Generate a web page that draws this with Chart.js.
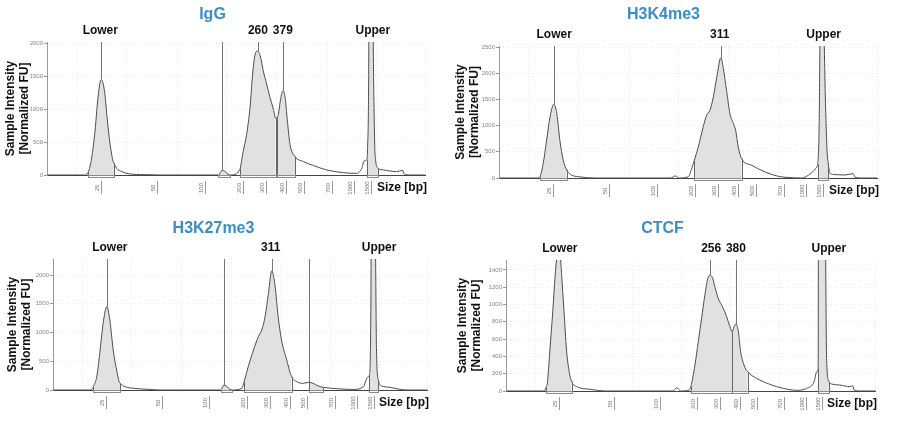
<!DOCTYPE html>
<html>
<head>
<meta charset="utf-8">
<script src="https://cdn.jsdelivr.net/npm/chart.js@4.4.0/dist/chart.umd.min.js"></script>
<style>
  body { margin: 0; background: #fff; }
  #wrap { position: relative; width: 900px; height: 421px; background: #fff; }
  .p { position: absolute; }
</style>
</head>
<body>
<div id="wrap">
  <div class="p" style="left:0;top:0;width:450px;height:210px"><canvas id="c1"></canvas></div>
  <div class="p" style="left:450px;top:0;width:450px;height:210px"><canvas id="c2"></canvas></div>
  <div class="p" style="left:0;top:210px;width:450px;height:211px"><canvas id="c3"></canvas></div>
  <div class="p" style="left:450px;top:210px;width:450px;height:211px"><canvas id="c4"></canvas></div>
</div>
<script>
// ====== TapeStation electropherograms (x = migration, % of run) ======
const sizeLabels = ["25", "50", "100", "200", "300", "400", "500", "700", "1000", "1500"];
const sizePos = [14.3, 29.2, 41.7, 51.8, 57.9, 63.3, 67.9, 75.3, 81.2, 85.7];
const gridPos = [7.9, 21.1, 34.4, 47.6, 60.8, 74.1, 87.3, 100];
const fuTicks500 = [0, 500, 1000, 1500, 2000, 2500];
const fuTicks200 = [0, 200, 400, 600, 800, 1000, 1200, 1400];

// IgG
const iggPos = [0, 10.0, 10.9, 11.8, 12.7, 13.4, 14.3, 15.2, 15.9, 16.7, 17.5, 17.7, 18.4, 19.8, 21.5, 25.9, 30.0, 45.3, 46.4, 48.4,
  50.2, 50.9, 51.1, 51.9, 52.8, 53.7, 54.4, 55.0, 55.7, 56.5, 57.2, 58.1, 59.0, 59.9, 60.5, 60.9, 61.2, 61.8, 62.4, 63.0,
  63.6, 64.3, 65.6, 67.8, 70.5, 74.0, 78.4, 81.9, 83.3, 83.9, 84.6, 84.8, 85.1, 85.2, 86.1, 86.4, 86.8, 87.6, 89.0, 90.7,
  92.5, 94.1, 94.4, 96.0, 100];
const iggFU = [0, 0, 40, 257, 667, 1128, 1451, 1282, 872, 462, 205, 185, 103, 51, 20, 5, 0, 0, 75, 0,
  20, 77, 100, 359, 615, 1026, 1538, 1821, 1887, 1795, 1590, 1385, 1180, 1000, 862, 880, 923, 1154, 1282, 1180,
  820, 462, 282, 205, 143, 77, 35, 25, 103, 215, 231, 400, 1500, 3000, 3000, 1500, 300, 103, 77, 62,
  51, 72, 20, 0, 0];
const iggRegions = [[10.9, 17.7], [45.3, 48.4], [51.1, 60.5], [60.9, 65.6], [84.6, 87.6]];
const iggMarkers = [14.3, 46.4, 55.7, 62.4];
const iggLabelPos = [14.1, 55.8, 62.4, 86.2];
const iggLabelText = ["Lower", "260", "379", "Upper"];

// H3K4me3
const k4Pos = [0, 10.0, 10.8, 11.7, 12.6, 13.5, 14.5, 15.3, 16.1, 17.0, 17.9, 19.2, 21.0, 25.4, 45.5, 46.6, 47.7, 50.1, 51.0, 51.7,
  52.7, 54.0, 54.9, 55.8, 56.7, 57.6, 58.7, 59.3, 60.2, 61.1, 62.0, 62.6, 63.3, 64.2, 66.9, 70.4, 73.9, 76.5, 80.1, 81.8,
  83.4, 84.1, 84.3, 84.7, 85.0, 85.8, 86.4, 86.8, 87.1, 87.6, 88.9, 91.5, 93.7, 94.2, 96.0, 100];
const k4FU = [0, 0, 25, 279, 722, 1165, 1406, 1229, 722, 342, 152, 57, 25, 0, 0, 40, 0, 25, 184, 342,
  589, 969, 1197, 1292, 1545, 1919, 2299, 2109, 1672, 1229, 1039, 912, 589, 368, 241, 114, 32, 10, 0, 51,
  146, 215, 260, 1000, 3000, 3000, 1355, 500, 279, 84, 65, 57, 84, 10, 0, 0];
const k4Regions = [[10.8, 17.9], [51.7, 64.2], [84.3, 87.1]];
const k4Markers = [14.5, 58.7];
const k4LabelPos = [14.6, 58.4, 85.9];
const k4LabelText = ["Lower", "311", "Upper"];

// H3K27me3
const k27Pos = [0, 10.0, 10.6, 10.8, 11.7, 12.6, 13.4, 14.4, 15.2, 16.1, 17.0, 17.7, 17.9, 19.3, 21.5, 25.9, 28.6, 44.8, 45.7, 47.8,
  50.5, 51.1, 52.2, 53.6, 54.9, 55.8, 56.7, 57.6, 58.5, 59.4, 60.2, 61.1, 62.5, 63.8, 65.2, 66.9, 68.4, 69.6, 70.9, 72.3,
  75.9, 80.3, 83.0, 83.9, 84.3, 84.6, 85.0, 85.1, 86.1, 86.5, 87.0, 87.9, 90.1, 92.8, 95.0, 100];
const k27FU = [0, 0, 30, 60, 231, 696, 1160, 1449, 1217, 696, 348, 144, 120, 57, 30, 10, 0, 0, 87, 0,
  30, 144, 405, 696, 927, 1043, 1275, 1682, 2075, 1797, 1275, 870, 522, 231, 144, 116, 134, 116, 70, 47,
  23, 10, 57, 203, 231, 260, 1500, 3000, 3000, 696, 174, 70, 47, 10, 0, 0];
const k27Regions = [[10.8, 17.9], [44.8, 47.8], [51.1, 63.8], [68.4, 72.3], [84.6, 87.0]];
const k27Markers = [14.4, 45.7, 58.5, 68.4];
const k27LabelPos = [15.2, 58.2, 87.2];
const k27LabelText = ["Lower", "311", "Upper"];

// CTCF
const ctcfPos = [0, 10.0, 10.6, 10.8, 11.2, 11.9, 12.7, 13.3, 13.7, 14.3, 14.8, 15.1, 15.7, 16.4, 17.2, 17.8, 19.2, 22.8, 27.3, 45.3,
  46.3, 47.3, 49.7, 50.1, 51.2, 52.1, 53.0, 53.9, 54.7, 55.3, 56.0, 56.6, 57.5, 58.9, 59.8, 60.7, 61.3, 61.8, 62.3, 62.9,
  63.6, 64.5, 65.5, 67.9, 71.5, 75.1, 78.8, 81.5, 83.5, 84.2, 84.6, 84.7, 86.3, 86.9, 87.5, 88.3, 90.5, 93.2, 94.0, 94.3,
  96.0, 100];
const ctcfFU = [0, 0, 12, 40, 89, 474, 936, 1321, 1520, 1620, 1520, 1321, 936, 474, 205, 108, 50, 20, 0, 0,
  38, 0, 12, 50, 300, 570, 840, 1110, 1303, 1341, 1303, 1206, 1072, 956, 859, 743, 686, 743, 775, 705,
  454, 300, 223, 147, 77, 31, 8, 31, 108, 223, 260, 3000, 3000, 350, 108, 81, 69, 50, 61, 12,
  0, 0];
const ctcfRegions = [[10.8, 17.8], [50.1, 61.3], [61.3, 65.5], [84.6, 87.5]];
const ctcfMarkers = [55.3, 62.3];
const ctcfLabelPos = [14.6, 55.6, 62.3, 87.5];
const ctcfLabelText = ["Lower", "256", "380", "Upper"];

const FONT = '"Liberation Sans", Arial, sans-serif';
const FILL = "#e1e1e1";
Chart.defaults.font.family = FONT;

// peak regions, markers, peak names and the size ladder under the axis
function decor(regions, markers, labelPos, labelText) {
  return {
    id: "decor",
    afterDatasetsDraw(chart) {
      const {ctx, chartArea: a, scales: {x, y}} = chart;
      const pts = chart.data.datasets[0].data;
      const valAt = p => { const d = pts.find(q => q.x === p); return d ? d.y : 0; };
      const y0 = y.getPixelForValue(0);
      ctx.save();
      ctx.lineWidth = 1;
      regions.forEach(([s, e]) => {
        ctx.strokeStyle = "#666";
        [s, e].forEach(p => {
          const px = Math.round(x.getPixelForValue(p)) + 0.5;
          ctx.beginPath();
          ctx.moveTo(px, y0);
          ctx.lineTo(px, Math.max(a.top, y.getPixelForValue(valAt(p))));
          ctx.stroke();
        });
        const x0 = Math.round(x.getPixelForValue(s)) + 0.5;
        const x1 = Math.round(x.getPixelForValue(e)) + 0.5;
        ctx.strokeStyle = "#8a8a8a";
        ctx.strokeRect(x0, Math.round(a.bottom) + 0.5, x1 - x0, 2);
      });
      ctx.strokeStyle = "#777";
      markers.forEach(p => {
        const px = Math.round(x.getPixelForValue(p)) + 0.5;
        ctx.beginPath();
        ctx.moveTo(px, a.top);
        ctx.lineTo(px, y.getPixelForValue(valAt(p)));
        ctx.stroke();
      });
      ctx.restore();
    },
    afterDraw(chart) {
      const {ctx, chartArea: a, scales: {x}} = chart;
      ctx.save();
      ctx.fillStyle = "#111";
      ctx.font = "bold 12px " + FONT;
      ctx.textAlign = "center";
      ctx.textBaseline = "middle";
      labelPos.forEach((p, i) => ctx.fillText(labelText[i], x.getPixelForValue(p), a.top - 11));
      // size ladder
      ctx.strokeStyle = "#999";
      ctx.lineWidth = 1;
      sizePos.forEach((p, i) => {
        const px = Math.round(x.getPixelForValue(p)) + 0.5;
        ctx.beginPath();
        ctx.moveTo(px, a.bottom + 6);
        ctx.lineTo(px, a.bottom + 19);
        ctx.stroke();
        ctx.save();
        ctx.translate(px - 4, a.bottom + 13);
        ctx.rotate(-Math.PI / 2);
        ctx.fillStyle = "#777";
        ctx.font = "6px " + FONT;
        ctx.fillText(sizeLabels[i], 0, 0);
        ctx.restore();
      });
      ctx.fillStyle = "#111";
      ctx.font = "bold 12px " + FONT;
      ctx.textAlign = "right";
      ctx.fillText("Size [bp]", a.right + 2, a.bottom + 13);
      ctx.restore();
    }
  };
}

const panels = [
  {id: "c1", title: "IgG", pos: iggPos, fu: iggFU, regions: iggRegions, markers: iggMarkers,
   labelPos: iggLabelPos, labelText: iggLabelText, ymax: 2025, yTicks: fuTicks500,
   box: {l: 47, r: 25, t: 42, b: 35, tc: 15, yt: 3.6}},
  {id: "c2", title: "H3K4me3", pos: k4Pos, fu: k4FU, regions: k4Regions, markers: k4Markers,
   labelPos: k4LabelPos, labelText: k4LabelText, ymax: 2520, yTicks: fuTicks500,
   box: {l: 49, r: 23, t: 46, b: 32, tc: 15, yt: 3.6}},
  {id: "c3", title: "H3K27me3", pos: k27Pos, fu: k27FU, regions: k27Regions, markers: k27Markers,
   labelPos: k27LabelPos, labelText: k27LabelText, ymax: 2280, yTicks: fuTicks500,
   box: {l: 53, r: 23, t: 49, b: 31, tc: 19, yt: 5.6}},
  {id: "c4", title: "CTCF", pos: ctcfPos, fu: ctcfFU, regions: ctcfRegions, markers: ctcfMarkers,
   labelPos: ctcfLabelPos, labelText: ctcfLabelText, ymax: 1515, yTicks: fuTicks200,
   box: {l: 56, r: 25, t: 50, b: 30, tc: 19, yt: 5.6}}
];

panels.forEach(p => {
  const inRegion = (a, b) => p.regions.some(([s, e]) => a >= s - 0.001 && b <= e + 0.001);
  const box = p.box;
  const tTop = box.tc - 9.6;
  new Chart(document.getElementById(p.id), {
    type: "line",
    data: {
      datasets: [{
        data: p.pos.map((v, i) => ({x: v, y: p.fu[i]})),
        borderColor: "#4d4d4d",
        borderWidth: 1,
        pointRadius: 0,
        cubicInterpolationMode: "monotone",
        fill: "origin",
        backgroundColor: "rgba(0,0,0,0)",
        segment: {
          backgroundColor: ctx => inRegion(ctx.p0.parsed.x, ctx.p1.parsed.x) ? FILL : "rgba(0,0,0,0)"
        }
      }]
    },
    options: {
      responsive: true,
      maintainAspectRatio: false,
      animation: false,
      layout: {padding: {left: 0, right: box.r, top: 0, bottom: 0}},
      plugins: {
        legend: {display: false},
        tooltip: {enabled: false},
        title: {
          display: true, text: p.title, color: "#3a8ec6",
          font: {family: FONT, size: 16, weight: "bold"},
          padding: {top: tTop, bottom: box.t - tTop - 19.2}
        }
      },
      scales: {
        x: {
          type: "linear", min: 0, max: 100,
          afterBuildTicks: s => { s.ticks = gridPos.map(v => ({value: v})); },
          afterFit: s => { s.height = box.b; },
          ticks: {display: false},
          grid: {color: "#ebebeb", drawTicks: false},
          border: {color: "#444", dash: [1, 2]}
        },
        y: {
          min: 0, max: p.ymax,
          afterBuildTicks: s => { s.ticks = p.yTicks.filter(v => v <= p.ymax).map(v => ({value: v})); },
          afterFit: s => { s.width = box.l; },
          ticks: {font: {size: 6}, color: "#888", padding: 1, callback: v => String(v)},
          grid: {color: "#ebebeb", tickLength: 3, tickColor: "#999"},
          border: {color: "#999", dash: [1, 2]},
          title: {
            display: true, text: ["Sample Intensity", "[Normalized FU]"], color: "#111",
            font: {size: 12, weight: "bold", lineHeight: 1.15},
            padding: {top: box.yt, bottom: 0}
          }
        }
      }
    },
    plugins: [decor(p.regions, p.markers, p.labelPos, p.labelText)]
  });
});
</script>
</body>
</html>
